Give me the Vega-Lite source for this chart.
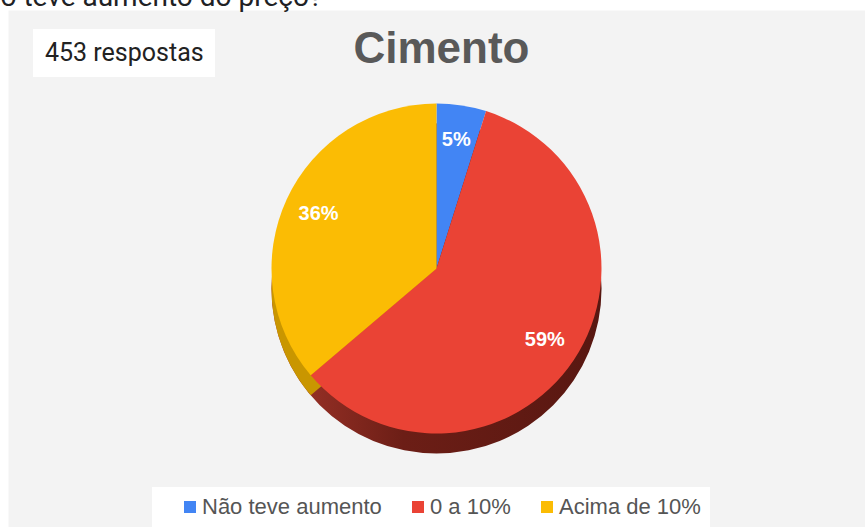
{
  "$schema": "https://vega.github.io/schema/vega-lite/v6.json",
  "autosize": "none",
  "padding": {"left": 8, "top": 10, "right": 0, "bottom": 0},
  "width": 857,
  "height": 517,
  "background": "white",
  "view": {"fill": "#f3f3f3", "stroke": "transparent"},
  "title": {
    "text": "Cimento",
    "font": "Liberation Sans",
    "fontWeight": "bold",
    "fontSize": 44,
    "color": "#595959",
    "anchor": "middle",
    "frame": "group",
    "baseline": "alphabetic",
    "offset": -124,
    "dx": 5
  },
  "data": {
    "values": [
      {"cat": "Não teve aumento", "n": 22, "ord": 1, "label": "5%"},
      {"cat": "0 a 10%", "n": 267, "ord": 2, "label": "59%"},
      {"cat": "Acima de 10%", "n": 164, "ord": 3, "label": "36%"}
    ]
  },
  "layer": [
    {
      "data": {"values": [{"k": 1}]},
      "mark": {
        "type": "arc",
        "theta": 0,
        "theta2": 6.2832,
        "radius": 165,
        "yOffset": 20,
        "fill": {
          "gradient": "linear",
          "x1": 0, "y1": 0, "x2": 1, "y2": 0,
          "stops": [
            {"offset": 0, "color": "#a3352a"},
            {"offset": 0.4, "color": "#6c1e16"},
            {"offset": 1, "color": "#581711"}
          ]
        }
      },
      "encoding": {}
    },
    {
      "mark": {"type": "arc", "radius": 165, "yOffset": 20},
      "encoding": {
        "theta": {"field": "n", "type": "quantitative", "stack": true},
        "order": {"field": "ord", "type": "quantitative"},
        "fill": {
          "condition": {"test": "datum.cat === 'Acima de 10%'", "value": "#c99600"},
          "value": "transparent"
        }
      }
    },
    {
      "mark": {"type": "arc", "radius": 165},
      "encoding": {
        "theta": {"field": "n", "type": "quantitative", "stack": true},
        "order": {"field": "ord", "type": "quantitative"},
        "color": {
          "field": "cat",
          "type": "nominal",
          "scale": {
            "domain": ["Não teve aumento", "0 a 10%", "Acima de 10%"],
            "range": ["#4285f4", "#ea4335", "#fbbc04"]
          },
          "legend": {
            "title": null,
            "orient": "none",
            "direction": "horizontal",
            "legendX": 144,
            "legendY": 477,
            "fillColor": "white",
            "padding": 9,
            "symbolType": "square",
            "symbolSize": 144,
            "symbolStrokeWidth": 0,
            "symbolOffset": 18,
            "labelOffset": 1,
            "columnPadding": 7,
            "labelFont": "Liberation Sans",
            "labelFontSize": 22,
            "labelColor": "#555555",
            "labelLimit": 400
          }
        }
      }
    },
    {
      "mark": {
        "type": "text",
        "radius": 130,
        "font": "Liberation Sans",
        "fontWeight": "bold",
        "fontSize": 20,
        "fill": "white"
      },
      "encoding": {
        "theta": {"field": "n", "type": "quantitative", "stack": true},
        "order": {"field": "ord", "type": "quantitative"},
        "text": {"field": "label", "type": "nominal"}
      }
    },
    {
      "data": {"values": [{"resp": "453 respostas"}]},
      "mark": {"type": "point", "opacity": 0},
      "encoding": {
        "x": {
          "field": "resp",
          "type": "nominal",
          "axis": {
            "orient": "top",
            "domain": false,
            "ticks": false,
            "labels": false,
            "grid": false,
            "title": "o teve aumento do preço?",
            "titleX": -8,
            "titleY": -5,
            "titleAnchor": "start",
            "titleAlign": "left",
            "titleBaseline": "alphabetic",
            "titleAngle": 0,
            "titleFont": "Roboto",
            "titleFontSize": 28,
            "titleFontWeight": "normal",
            "titleColor": "#202124"
          }
        },
        "shape": {
          "field": "resp",
          "type": "nominal",
          "legend": {
            "title": null,
            "orient": "none",
            "legendX": 25,
            "legendY": 19,
            "fillColor": "white",
            "padding": 11,
            "symbolSize": 0,
            "symbolStrokeWidth": 0,
            "symbolOpacity": 0,
            "labelOffset": -24,
            "labelFont": "Roboto",
            "labelFontSize": 25,
            "labelColor": "#222222",
            "labelLimit": 400
          }
        }
      }
    }
  ],
  "config": {
    "view": {"fill": "#f3f3f3", "stroke": "transparent"}
  }
}
